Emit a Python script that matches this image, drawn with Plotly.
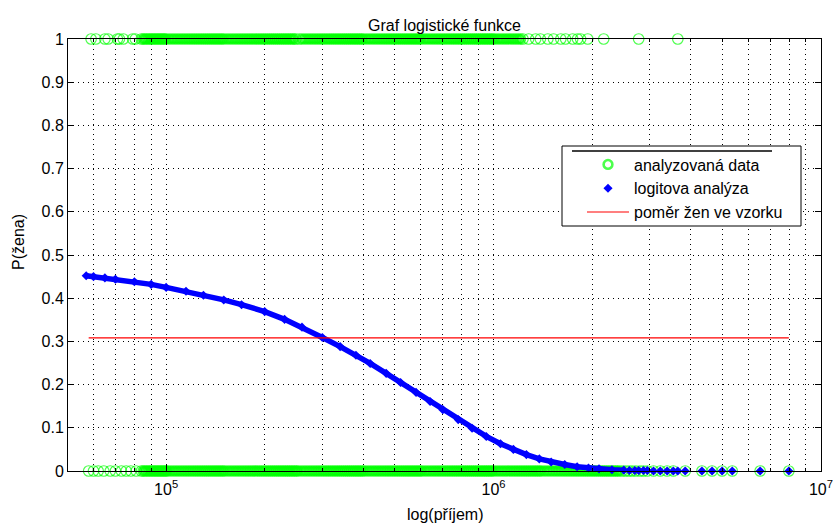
import numpy as np
import plotly.graph_objects as go

# Příjmy respondentek (ženy, P = 1), v tisících Kč
zeny_prijem_tis = [
    59, 61, 65, 66.5, 71, 72, 74, 79, 80.5,
    84, 85, 86, 87, 88, 89, 90, 91, 92, 93, 94, 95, 96, 97, 98, 99, 100,
    102, 104, 106, 108, 110, 112, 114, 116, 118, 120, 122, 124, 126, 128, 130,
    132, 134, 136, 138, 140, 142, 144, 146, 148, 150,
    153, 156, 159, 162, 165, 168, 171, 174, 177, 180, 183, 186, 189, 192, 195,
    198, 201, 204, 207, 210, 213, 216, 219, 222, 225, 228, 231, 234, 237, 240,
    243, 246, 249,
    255, 260, 265, 270, 275, 280, 285, 290, 295, 300, 305, 310, 315, 320, 325,
    330, 335, 340, 345, 350, 355, 360, 365, 370, 375, 380, 385, 390, 395, 400,
    408, 416, 424, 432, 440, 448, 456, 464, 472, 480, 488, 496, 504, 512, 520,
    528, 536, 544, 552, 560, 568, 576, 584, 592, 600,
    612, 624, 636, 648, 660, 672, 684, 696, 708, 720, 732, 744, 756, 768, 780,
    792, 804, 816, 828, 840, 852, 864, 876, 888, 900, 912, 924, 936, 948, 960,
    972, 984, 996,
    1010, 1030, 1050, 1070, 1090, 1110, 1130, 1150, 1170, 1190, 1210, 1230,
    1280, 1345, 1390, 1465, 1525, 1605, 1660, 1745, 1805, 1845, 1940, 2170,
    2775, 3655,
]

# Příjmy respondentů (muži, P = 0), v tisících Kč
muzi_prijem_tis = [
    58, 60, 62, 64.5, 67.5, 70, 73, 75.5, 78, 81,
    84, 85, 86, 87, 88, 89, 90, 91, 92, 93, 94, 95, 96, 97, 98, 99, 100,
    101, 103, 105, 107, 109, 111, 113, 115, 117, 119, 121, 123, 125, 127, 129,
    131, 133, 135, 137, 139, 141, 143, 145, 147, 149,
    151, 154, 157, 160, 163, 166, 169, 172, 175, 178, 181, 184, 187, 190, 193,
    196, 199, 202, 205, 208, 211, 214, 217, 220, 223, 226, 229, 232, 235, 238,
    241, 244, 247, 250,
    253, 258, 263, 268, 273, 278, 283, 288, 293, 298, 303, 308, 313, 318, 323,
    328, 333, 338, 343, 348, 353, 358, 363, 368, 373, 378, 383, 388, 393, 398,
    404, 412, 420, 428, 436, 444, 452, 460, 468, 476, 484, 492, 500, 508, 516,
    524, 532, 540, 548, 556, 564, 572, 580, 588, 596, 604,
    616, 628, 640, 652, 664, 676, 688, 700, 712, 724, 736, 748, 760, 772, 784,
    796, 808, 820, 832, 844, 856, 868, 880, 892, 904, 916, 928, 940, 952, 964,
    976, 988, 1000,
    1020, 1040, 1060, 1080, 1100, 1120, 1140, 1160, 1180, 1200, 1220, 1240,
    1260, 1280, 1300, 1320, 1340, 1360, 1380, 1400,
    1430, 1460, 1490, 1520, 1550, 1580, 1610, 1640, 1670, 1700, 1730, 1760,
    1790, 1820, 1850, 1880, 1910, 1940, 1970, 2000, 2030, 2060, 2090, 2120,
    2150, 2180, 2210, 2240, 2270, 2300, 2330, 2360, 2390, 2420,
    2470, 2530, 2590, 2650, 2720, 2800, 2870, 2950,
    3080, 3230, 3390, 3540, 3850, 4330, 4650, 4990, 5360, 6520, 7980,
]

# Pravděpodobnost P(žena) podle logitového modelu (souvislá část křivky)
logit_prijem = [
    57000, 60000, 65000, 70000, 80000, 90000, 100000, 115000, 130000,
    150000, 170000, 200000, 230000, 260000, 300000, 340000, 380000, 420000,
    470000, 520000, 580000, 640000, 700000, 780000, 860000, 950000, 1050000,
    1150000, 1260000, 1380000, 1500000, 1650000, 1800000, 1950000, 2100000,
    2300000, 2500000,
]
logit_p = [
    0.452, 0.450, 0.447, 0.444, 0.438, 0.432, 0.425, 0.416, 0.407,
    0.396, 0.385, 0.369, 0.351, 0.333, 0.309, 0.288, 0.268, 0.249,
    0.226, 0.205, 0.182, 0.161, 0.142, 0.119, 0.099, 0.080, 0.063,
    0.050, 0.038, 0.028, 0.021, 0.015, 0.010, 0.007, 0.005,
    0.003, 0.002,
]
# Odhady pro nejvyšší příjmy (jednotlivé body)
logit_konec_prijem = [
    2600000, 2700000, 2775000, 2870000, 2950000, 3080000, 3230000, 3390000,
    3540000, 3655000, 3850000, 4330000, 4650000, 4990000, 5360000, 6520000,
    7980000,
]
logit_konec_p = [
    0.001, 0.001, 0.001, 0.001, 0.001, 0.0, 0.0, 0.0,
    0.0, 0.0, 0.0, 0.0, 0.0, 0.0, 0.0, 0.0,
    0.0,
]

# Podíl žen ve vzorku
pomer_zen = 0.308

x_tick_vals = [1e5, 1e6, 1e7]
x_tick_text = ["10<sup>5</sup>", "10<sup>6</sup>", "10<sup>7</sup>"]
y_tick_vals = [0, 0.1, 0.2, 0.3, 0.4, 0.5, 0.6, 0.7, 0.8, 0.9, 1]

FONT = "Liberation Sans, Arial, Helvetica, sans-serif"
GREEN = "#00ff00"
BLUE = "#0000ff"
RED = "#ff0000"

zeny_x = np.array(zeny_prijem_tis) * 1000
muzi_x = np.array(muzi_prijem_tis) * 1000
data_x = np.concatenate([zeny_x, muzi_x])
data_y = np.concatenate([np.ones(len(zeny_x)), np.zeros(len(muzi_x))])


def ring_style(x):
    """Hustě ležící kroužky splývají do pásu: silnější obrys, menší průměr."""
    lx = np.log10(x)
    gl = np.r_[np.inf, np.diff(lx)]
    gr = np.r_[np.diff(lx), np.inf]
    dense = np.maximum(gl, gr) < 0.0095
    size = np.where(dense, 8.5, 10.5)
    width = np.where(dense, 2.8, 1.2)
    return size, width


s_z, w_z = ring_style(zeny_x)
s_m, w_m = ring_style(muzi_x)
ring_size = np.concatenate([s_z, s_m])
ring_width = np.concatenate([w_z, w_m])

blue_x = list(logit_prijem) + list(logit_konec_prijem)
blue_y = list(logit_p) + list(logit_konec_p)

fig = go.Figure()

fig.add_trace(go.Scatter(
    x=data_x, y=data_y, mode="markers", name="analyzovaná data",
    marker=dict(symbol="circle-open", size=ring_size, color=GREEN,
                line=dict(color=GREEN, width=ring_width)),
    cliponaxis=False,
))

# souvislý pás křivky pod body
fig.add_trace(go.Scatter(
    x=logit_prijem, y=logit_p, mode="lines", showlegend=False,
    line=dict(color=BLUE, width=5.5), cliponaxis=False, hoverinfo="skip",
))
fig.add_trace(go.Scatter(
    x=blue_x, y=blue_y, mode="markers", name="logitova analýza",
    marker=dict(symbol="diamond", size=7, color=BLUE, line=dict(width=0)),
    cliponaxis=False,
))

fig.add_trace(go.Scatter(
    x=[data_x.min(), data_x.max()], y=[pomer_zen, pomer_zen], mode="lines",
    name="poměr žen ve vzorku", line=dict(color=RED, width=1.2),
))

grid_dash = "1px,4px"
fig.update_xaxes(
    type="log", range=[np.log10(50150), 7.0002], automargin=False,
    tickvals=x_tick_vals, ticktext=x_tick_text, ticklabelstandoff=4,
    ticks="inside", ticklen=6, tickcolor="black",
    showline=True, linecolor="black", linewidth=1, mirror="ticks",
    showgrid=True, gridcolor="black", gridwidth=1, griddash=grid_dash,
    minor=dict(dtick="D1", ticks="inside", ticklen=3, tickcolor="black",
               showgrid=True, gridcolor="black", gridwidth=1,
               griddash=grid_dash),
    tickfont=dict(family=FONT, size=16, color="black"),
    zeroline=False,
)
fig.update_yaxes(
    range=[0, 1], tickvals=y_tick_vals, automargin=False,
    ticks="inside", ticklen=6, tickcolor="black",
    showline=True, linecolor="black", linewidth=1, mirror="ticks",
    showgrid=True, gridcolor="black", gridwidth=1, griddash=grid_dash,
    tickfont=dict(family=FONT, size=16, color="black"),
    zeroline=False,
)

W, H = 833, 524
L, R, T, B = 68, 12, 39, 53
pw, ph = W - L - R, H - T - B


def px(x):
    return (x - L) / pw


def py(y):
    return (H - B - y) / ph


fig.update_layout(
    width=W, height=H,
    margin=dict(l=L, r=R, t=T, b=B, autoexpand=False),
    paper_bgcolor="white", plot_bgcolor="white",
    font=dict(family=FONT, size=16, color="black"),
    title=dict(text="Graf logistické funkce", x=0.5, xref="paper",
               y=1 - 25 / H, yref="container", yanchor="middle",
               font=dict(family=FONT, size=16, color="black")),
    legend=dict(x=px(582), y=py(147.5), xanchor="left", yanchor="top",
                bgcolor="rgba(0,0,0,0)", borderwidth=0,
                font=dict(family=FONT, size=16, color="black"),
                itemwidth=42, tracegroupgap=0),
    showlegend=True,
    shapes=[
        dict(type="rect", xref="paper", yref="paper",
             x0=px(562), x1=px(801), y0=py(226), y1=py(146),
             fillcolor="white", line=dict(color="black", width=1),
             layer="above"),
        dict(type="line", xref="paper", yref="paper",
             x0=px(572), x1=px(772), y0=py(151), y1=py(151),
             line=dict(color="black", width=1.5), layer="above"),
    ],
    annotations=[
        dict(text="log(příjem)", x=0.5, y=py(514), xref="paper", yref="paper",
             xanchor="center", yanchor="middle", showarrow=False,
             font=dict(family=FONT, size=16, color="black")),
        dict(text="P(žena)", x=px(18), y=py(242), xref="paper", yref="paper",
             xanchor="center", yanchor="middle", textangle=-90,
             showarrow=False, font=dict(family=FONT, size=16, color="black")),
    ],
)

fig.write_html("out.html")
